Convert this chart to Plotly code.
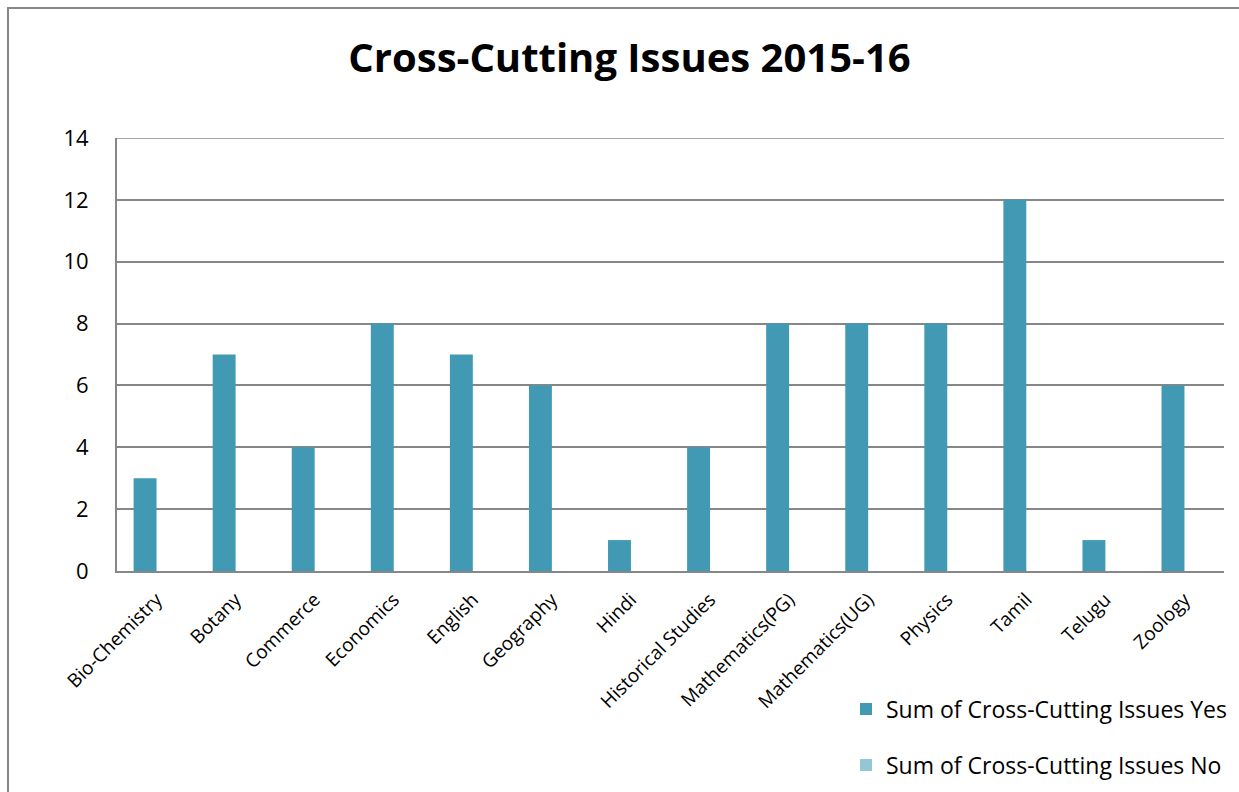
import plotly.graph_objects as go

categories = ["Bio-Chemistry", "Botany", "Commerce", "Economics", "English", "Geography",
              "Hindi", "Historical Studies", "Mathematics(PG)", "Mathematics(UG)",
              "Physics", "Tamil", "Telugu", "Zoology"]
yes_values = [3, 7, 4, 8, 7, 6, 1, 4, 8, 8, 8, 12, 1, 6]
no_values = [0, 0, 0, 0, 0, 0, 0, 0, 0, 0, 0, 0, 0, 0]
y_ticks = [0, 2, 4, 6, 8, 10, 12, 14]

W, H = 1239, 792
L, R, T, B = 117, 15, 138, 221
pw, ph = W - L - R, H - T - B

def px_x(x):
    return (x - L) / pw

def px_y(y):
    return (H - B - y) / ph

FONT = "Open Sans"
GRID = "#878787"

fig = go.Figure()
fig.add_trace(go.Bar(x=categories, y=yes_values, name="Sum of Cross-Cutting Issues Yes",
                     marker=dict(color="#4299B4", line=dict(width=0)), legend="legend"))
fig.add_trace(go.Bar(x=categories, y=no_values, name="Sum of Cross-Cutting Issues No",
                     marker=dict(color="#93C6D6", line=dict(width=0)), legend="legend2"))

fig.update_layout(
    width=W, height=H,
    margin=dict(l=L, r=R, t=T, b=B, autoexpand=False),
    paper_bgcolor="white", plot_bgcolor="white",
    font=dict(family=FONT, color="black"),
    barmode="group", bargap=0.42, bargroupgap=0,
    title=dict(text="<b>Cross-Cutting Issues 2015-16</b>", x=629.5 / W, xanchor="center",
               y=1 - 58 / H, yanchor="middle", font=dict(size=40, family=FONT, color="black")),
    xaxis=dict(tickangle=-45, tickfont=dict(size=19, family=FONT, color="black"),
               showline=True, linecolor=GRID, linewidth=2, showgrid=False,
               ticks="", ticklabelstandoff=8, automargin=False),
    yaxis=dict(range=[0, y_ticks[-1]], tickvals=y_ticks,
               tickfont=dict(size=22, family=FONT, color="black"),
               showgrid=True, gridcolor=GRID, gridwidth=1.5,
               showline=True, linecolor=GRID, linewidth=2,
               zeroline=False, ticks="", ticklabelstandoff=22, automargin=False),
    legend=dict(x=px_x(846), y=px_y(709), xanchor="left", yanchor="middle",
                font=dict(size=23, family=FONT, color="black"), bgcolor="rgba(0,0,0,0)"),
    legend2=dict(x=px_x(846), y=px_y(765), xanchor="left", yanchor="middle",
                 font=dict(size=23, family=FONT, color="black"), bgcolor="rgba(0,0,0,0)"),
    showlegend=True,
)

# top gridline at the last tick (Plotly omits the gridline at the range edge)
fig.add_shape(type="line", xref="paper", yref="y", x0=0, x1=1, y0=y_ticks[-1], y1=y_ticks[-1],
              line=dict(color=GRID, width=1.5), layer="below")

# outer chart border
fig.add_shape(type="rect", xref="paper", yref="paper",
              x0=px_x(8), x1=px_x(1300), y0=px_y(8), y1=px_y(900),
              line=dict(color=GRID, width=2), fillcolor="rgba(0,0,0,0)", layer="below")

fig.write_html("out.html", config={"displayModeBar": False},
               post_script="document.body.style.margin='0';document.body.style.overflow='hidden';")
